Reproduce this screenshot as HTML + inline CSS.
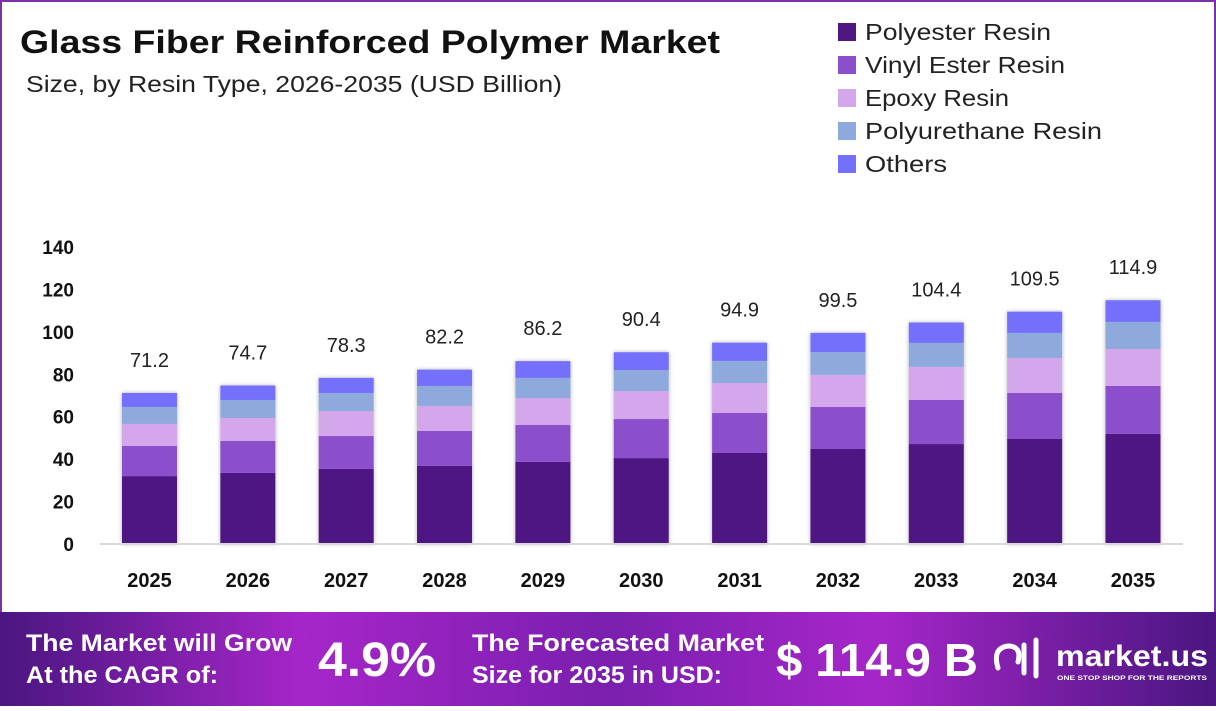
<!DOCTYPE html>
<html><head><meta charset="utf-8"><style>
body{margin:0;width:1216px;height:706px;overflow:hidden;background:#fff;font-family:"Liberation Sans",sans-serif}
#wrap{position:relative;width:1216px;height:706px}
svg text{font-family:"Liberation Sans",sans-serif}
</style></head><body>
<div id="wrap">
<svg id="chart" width="1216" height="706">
<defs>
<linearGradient id="foot" x1="0" x2="1" y1="0" y2="0">
<stop offset="0" stop-color="#4a1680"/><stop offset="0.25" stop-color="#a626c9"/><stop offset="0.5" stop-color="#7a1fae"/><stop offset="0.72" stop-color="#a626c9"/><stop offset="1" stop-color="#4a1680"/>
</linearGradient>
<filter id="sh" x="-20%" y="-5%" width="140%" height="110%"><feDropShadow dx="0" dy="0" stdDeviation="2" flood-color="#000" flood-opacity="0.3"/></filter>
</defs>
<rect x="1" y="1" width="1214" height="640" fill="none" stroke="#7b2fa8" stroke-width="2"/>
<text x="20" y="53" font-size="32" font-weight="bold" fill="#111" textLength="700" lengthAdjust="spacingAndGlyphs">Glass Fiber Reinforced Polymer Market</text>
<text x="26" y="92" font-size="23" fill="#222" textLength="536" lengthAdjust="spacingAndGlyphs">Size, by Resin Type, 2026-2035 (USD Billion)</text>
<g id="legend"></g>
<g id="yaxis"></g>
<g id="bars"></g>
<line x1="100" y1="544" x2="1183" y2="544" stroke="#d9d9d9" stroke-width="2"/>
<g id="xaxis"></g>
<rect x="0" y="612" width="1216" height="94" fill="url(#foot)"/>
<text x="26" y="651" font-size="24" font-weight="bold" fill="#fff" textLength="266" lengthAdjust="spacingAndGlyphs">The Market will Grow</text>
<text x="26" y="683" font-size="24" font-weight="bold" fill="#fff" textLength="192" lengthAdjust="spacingAndGlyphs">At the CAGR of:</text>
<text x="318" y="676" font-size="48" font-weight="bold" fill="#fff" textLength="118" lengthAdjust="spacingAndGlyphs">4.9%</text>
<text x="472" y="651" font-size="24" font-weight="bold" fill="#fff" textLength="292" lengthAdjust="spacingAndGlyphs">The Forecasted Market</text>
<text x="472" y="683" font-size="24" font-weight="bold" fill="#fff" textLength="250" lengthAdjust="spacingAndGlyphs">Size for 2035 in USD:</text>
<text x="776" y="676" font-size="46" font-weight="bold" fill="#fff" textLength="202" lengthAdjust="spacingAndGlyphs">$ 114.9 B</text>
<g>
<path d="M998 668 q-6 -20 10 -22 q14 0 10 16 M1024 645 v28 M1036 640 v36" stroke="#fff" stroke-width="5" fill="none" stroke-linecap="round"/>
<text x="1056" y="666" font-size="30" font-weight="bold" fill="#fff" textLength="152" lengthAdjust="spacingAndGlyphs">market.us</text>
<text x="1057" y="680" font-size="6.5" font-weight="bold" fill="#fff" textLength="150" lengthAdjust="spacingAndGlyphs">ONE STOP SHOP FOR THE REPORTS</text>
</g>
</svg>
</div>
<script>
const years=["2025","2026","2027","2028","2029","2030","2031","2032","2033","2034","2035"];
const totals=[71.2,74.7,78.3,82.2,86.2,90.4,94.9,99.5,104.4,109.5,114.9];
const polyester=[32.0,33.5,35.4,36.8,38.7,40.5,42.9,44.8,47.1,49.5,51.9];
const vinylEster=[14.2,15.1,15.5,16.5,17.4,18.4,18.9,19.8,20.8,21.7,22.6];
const epoxy=[10.4,10.8,11.8,11.8,12.7,13.2,14.1,15.1,15.6,16.5,17.4];
const polyurethane=[8.0,8.5,8.5,9.4,9.5,9.9,10.4,10.8,11.3,11.8,12.8];
const others=[6.6,6.8,7.1,7.7,7.9,8.4,8.6,9.0,9.6,10.0,10.2];
const yTicks=[0,20,40,60,80,100,120,140];
const seriesNames=["Polyester Resin","Vinyl Ester Resin","Epoxy Resin","Polyurethane Resin","Others"];
const colors=["#4e1782","#8b4fcc","#d4a7ec","#8eaadc","#7470fc"];
const series=[polyester,vinylEster,epoxy,polyurethane,others];
const legendWidths=[186,200,144,237,82];
const NS="http://www.w3.org/2000/svg";
const y0=544,pxPer=297/140;
const yScale=v=>y0-v*pxPer;
const x0=149.5,step=98.35,bw=55;
const xScale=i=>x0+i*step;
function mk(tag,attrs,parent){const e=document.createElementNS(NS,tag);for(const k in attrs)e.setAttribute(k,attrs[k]);parent.appendChild(e);return e;}
const leg=document.getElementById('legend');
seriesNames.forEach((n,i)=>{
  const g=mk('g',{},leg);
  
  
  mk('rect',{x:838,y:23+i*33,width:18,height:18,fill:colors[i]},g);
  const t=mk('text',{x:865,y:40+i*33,'font-size':23,fill:'#222',textLength:legendWidths[i],lengthAdjust:'spacingAndGlyphs'},g);t.textContent=n;
});
const ya=document.getElementById('yaxis');
yTicks.forEach(v=>{
  const t=mk('text',{x:74,y:yScale(v)+7,'font-size':19,'font-weight':'bold','text-anchor':'end',fill:'#111'},ya);
  
  
  t.textContent=v;
});
const bars=document.getElementById('bars');
const xa=document.getElementById('xaxis');
years.forEach((yr,i)=>{
  const g=mk('g',{filter:'url(#sh)'},bars);
  
  
  let acc=0;
  series.forEach((s,k)=>{
    const top=yScale(acc+s[i]),bot=yScale(acc);
    const r=mk('rect',{x:xScale(i)-bw/2,y:top,width:bw,height:bot-top,fill:colors[k]},g);
    
    
    acc+=s[i];
  });
  const vt=mk('text',{x:xScale(i),y:yScale(totals[i])-26,'font-size':20,'text-anchor':'middle',fill:'#222'},bars);
  
  
  vt.textContent=totals[i];
  const xt=mk('text',{x:xScale(i),y:587,'font-size':20,'font-weight':'bold','text-anchor':'middle',fill:'#111'},xa);
  
  
  xt.textContent=yr;
});
</script>
</body></html>
